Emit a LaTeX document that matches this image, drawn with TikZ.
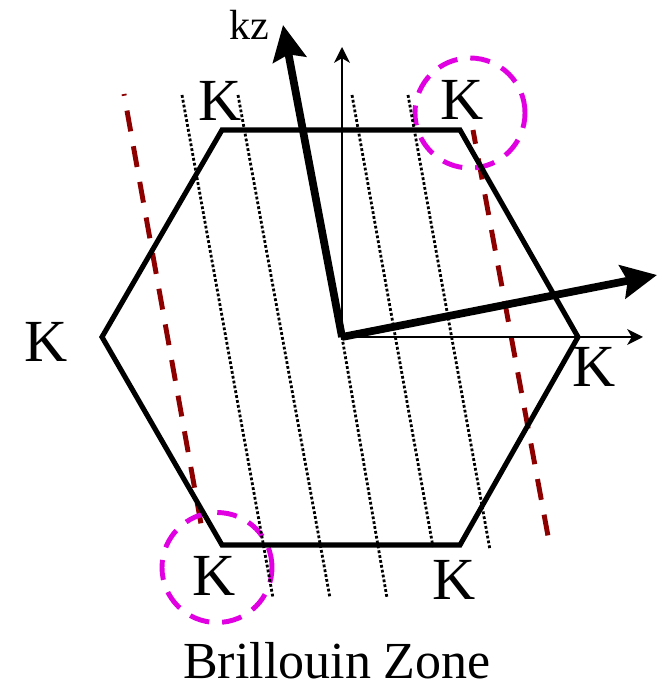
\documentclass[tikz,border=0pt]{standalone}
\usepackage{fontspec}
\setmainfont{Liberation Serif}
\usetikzlibrary{arrows.meta}
\definecolor{cutred}{RGB}{140,0,0}
\definecolor{ringmag}{RGB}{225,0,225}

\begin{document}
\begin{tikzpicture}[
  hexline/.style={line width=1.45pt, line join=miter},
  thinaxis/.style={line width=0.6pt, -{Stealth[length=4.5pt,width=4.5pt,inset=1.3pt]}},
  thickaxis/.style={line width=2.2pt, -{Stealth[length=10pt,width=9.5pt,inset=1.5pt]}},
  cutline/.style={line width=0.8pt, dash pattern=on 0.8pt off 0.6pt},
  edgecut/.style={cutred, line width=1.4pt, dash pattern=on 6pt off 4.3pt, dash phase=5.5pt},
  valley/.style={ringmag, line width=1.4pt, dash pattern=on 5.7pt off 3.7pt},
  klabel/.style={font=\fontsize{17}{20}\selectfont, inner sep=0pt}
]
  \useasboundingbox (-3.42,-3.48) rectangle (3.20,3.37);
  \coordinate (O) at (0,0);
  % dashed cut lines at the zone edge
  \draw[edgecut] (-2.18,2.43) -- (-1.39,-1.98);
  \draw[edgecut, dash phase=2pt] (1.31,2.07) -- (2.06,-1.99);
  % circles round the K valleys
  \draw[valley] (1.28,2.24) circle (0.55);
  \draw[valley] (-1.25,-2.305) circle (0.55);
  % allowed cutting lines
  \draw[cutline] (-1.60,2.42) -- (-0.69,-2.61);
  \draw[cutline] (-1.04,2.42) -- (-0.12,-2.61);
  \draw[cutline] (O) -- (0.45,-2.61);
  \draw[cutline] (0.10,2.42) -- (0.91,-2.10);
  \draw[cutline] (0.66,2.42) -- (1.48,-2.13);
  % hexagon
  \draw[hexline] (2.36,0) -- (1.18,2.07) -- (-1.20,2.07) -- (-2.40,0)
    -- (-1.20,-2.08) -- (1.18,-2.08) -- cycle;
  % axes
  \coordinate (xtip) at (3.01,0);
  \coordinate (ytip) at (0,2.90);
  \coordinate (kztip) at (-0.59,3.12);
  \coordinate (kttip) at (3.15,0.62);
  \draw[thinaxis] (O) -- (xtip);
  \draw[thinaxis] (O) -- (ytip);
  \draw[thickaxis] (O) -- (kztip);
  \draw[thickaxis] (O) -- (kttip);
  \node[anchor=base, inner sep=0pt, font=\fontsize{12}{14}\selectfont] (kz) at (-0.93,2.97) {kz};
  % K points
  \node[klabel] (kTL) at (-1.22,2.36) {K};
  \node[klabel] (kTR) at (1.20,2.37) {K};
  \node[klabel] (kL) at (-2.96,-0.05) {K};
  \node[klabel] (kR) at (2.52,-0.30) {K};
  \node[klabel] (kBL) at (-1.28,-2.39) {K};
  \node[klabel] (kBR) at (1.12,-2.43) {K};
  \node[anchor=base, inner sep=0pt, font=\fontsize{14.8}{17}\selectfont] (title) at (-0.05,-3.41) {Brillouin Zone};
\end{tikzpicture}
\end{document}
